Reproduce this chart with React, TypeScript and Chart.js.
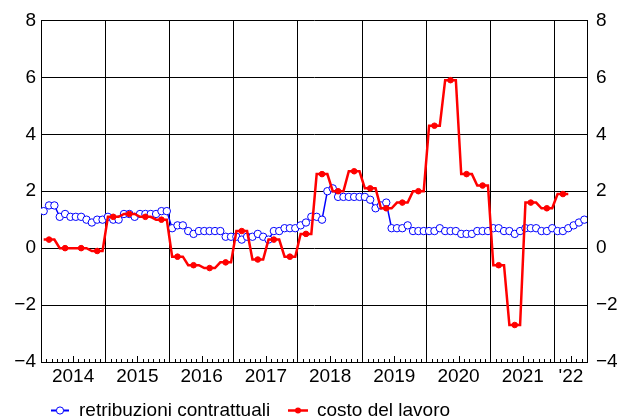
import React, { useEffect, useRef } from 'react';
import { Chart, registerables } from 'chart.js';

Chart.register(...registerables);

// ---- Data (monthly, Jan 2014 onward) ----
const yearLabels = ['2014', '2015', '2016', '2017', '2018', '2019', '2020', '2021', "'22"];
const yTickValues = [-4, -2, 0, 2, 4, 6, 8];
const seriesNames = ['retribuzioni contrattuali', 'costo del lavoro'];

// retribuzioni contrattuali, monthly Jan 2014 – Jun 2022
const retribuzioni2014 = [1.3, 1.5, 1.5, 1.1, 1.2, 1.1, 1.1, 1.1, 1.0, 0.9, 1.0, 1.0];
const retribuzioni2015 = [1.1, 1.0, 1.0, 1.2, 1.2, 1.1, 1.2, 1.2, 1.2, 1.2, 1.3, 1.3];
const retribuzioni2016 = [0.7, 0.8, 0.8, 0.6, 0.5, 0.6, 0.6, 0.6, 0.6, 0.6, 0.4, 0.4];
const retribuzioni2017 = [0.4, 0.3, 0.4, 0.4, 0.5, 0.4, 0.3, 0.6, 0.6, 0.7, 0.7, 0.7];
const retribuzioni2018 = [0.8, 0.9, 1.1, 1.1, 1.0, 2.0, 2.1, 1.8, 1.8, 1.8, 1.8, 1.8];
const retribuzioni2019 = [1.8, 1.7, 1.4, 1.5, 1.6, 0.7, 0.7, 0.7, 0.8, 0.6, 0.6, 0.6];
const retribuzioni2020 = [0.6, 0.6, 0.7, 0.6, 0.6, 0.6, 0.5, 0.5, 0.5, 0.6, 0.6, 0.6];
const retribuzioni2021 = [0.7, 0.7, 0.6, 0.6, 0.5, 0.6, 0.7, 0.7, 0.7, 0.6, 0.6, 0.7];
const retribuzioni2022 = [0.6, 0.6, 0.7, 0.8, 0.9, 1.0];

// costo del lavoro, monthly (quarterly values held per month), Jan 2014 – Mar 2022
const costo2014 = [0.3, 0.3, 0.3, 0.0, 0.0, 0.0, 0.0, 0.0, 0.0, -0.1, -0.1, -0.1];
const costo2015 = [1.1, 1.1, 1.1, 1.2, 1.2, 1.2, 1.1, 1.1, 1.1, 1.0, 1.0, 1.0];
const costo2016 = [-0.3, -0.3, -0.3, -0.6, -0.6, -0.6, -0.7, -0.7, -0.7, -0.5, -0.5, -0.5];
const costo2017 = [0.6, 0.6, 0.6, -0.4, -0.4, -0.4, 0.3, 0.3, 0.3, -0.3, -0.3, -0.3];
const costo2018 = [0.5, 0.5, 0.5, 2.6, 2.6, 2.6, 2.0, 2.0, 2.0, 2.7, 2.7, 2.7];
const costo2019 = [2.1, 2.1, 2.1, 1.4, 1.4, 1.4, 1.6, 1.6, 1.6, 2.0, 2.0, 2.0];
const costo2020 = [4.3, 4.3, 4.3, 5.9, 5.9, 5.9, 2.6, 2.6, 2.6, 2.2, 2.2, 2.2];
const costo2021 = [-0.6, -0.6, -0.6, -2.7, -2.7, -2.7, 1.6, 1.6, 1.6, 1.4, 1.4, 1.4];
const costo2022 = [1.9, 1.9, 1.9];

const retribuzioni = [
  ...retribuzioni2014, ...retribuzioni2015, ...retribuzioni2016, ...retribuzioni2017,
  ...retribuzioni2018, ...retribuzioni2019, ...retribuzioni2020, ...retribuzioni2021, ...retribuzioni2022,
];
const costoLavoro = [
  ...costo2014, ...costo2015, ...costo2016, ...costo2017,
  ...costo2018, ...costo2019, ...costo2020, ...costo2021, ...costo2022,
];

const BLUE = '#0000ff';
const RED = '#ff0000';
const FONT = "'Liberation Sans', Arial, Helvetica, sans-serif";
const FONT_SIZE = 19;
const X_MAX = 102; // months shown (Jan 2014 – Jun 2022)

const fmt = (v: number) => (v < 0 ? '\u2212' + Math.abs(v) : String(v));

const minorTicksPlugin = {
  id: 'minorTicks',
  beforeDatasetsDraw(chart: any) {
    const { ctx, chartArea, scales } = chart;
    const x = scales.x;
    ctx.save();
    ctx.strokeStyle = '#000';
    ctx.lineWidth = 1;
    for (let m = 1; m < X_MAX; m++) {
      if (m % 12 === 0) continue;
      const px = Math.round(x.getPixelForValue(m)) + 0.5;
      const len = m % 12 === 6 || m === 99 ? 6 : 3;
      ctx.beginPath();
      ctx.moveTo(px, chartArea.bottom);
      ctx.lineTo(px, chartArea.bottom - len);
      ctx.stroke();
    }
    ctx.restore();
  },
};

const legendPlugin = {
  id: 'customLegend',
  afterDraw(chart: any) {
    const { ctx } = chart;
    const y = 410.5;
    ctx.save();
    ctx.font = `${FONT_SIZE}px ${FONT}`;
    ctx.textBaseline = 'middle';
    ctx.fillStyle = '#000';
    // blue item
    ctx.strokeStyle = BLUE;
    ctx.lineWidth = 2;
    ctx.beginPath();
    ctx.moveTo(51, y);
    ctx.lineTo(69, y);
    ctx.stroke();
    ctx.beginPath();
    ctx.arc(60, y, 3.6, 0, Math.PI * 2);
    ctx.fillStyle = '#fff';
    ctx.fill();
    ctx.lineWidth = 1;
    ctx.stroke();
    ctx.fillStyle = '#000';
    ctx.fillText(seriesNames[0], 79, y);
    // red item
    ctx.strokeStyle = RED;
    ctx.lineWidth = 2.5;
    ctx.beginPath();
    ctx.moveTo(288, y);
    ctx.lineTo(308, y);
    ctx.stroke();
    ctx.beginPath();
    ctx.arc(298, y, 3, 0, Math.PI * 2);
    ctx.fillStyle = RED;
    ctx.fill();
    ctx.fillStyle = '#000';
    ctx.fillText(seriesNames[1], 317, y);
    ctx.restore();
  },
};

export default function App() {
  const ref = useRef<HTMLCanvasElement>(null);

  useEffect(() => {
    if (!ref.current) return;
    Chart.defaults.font.family = FONT;
    Chart.defaults.font.size = FONT_SIZE;
    Chart.defaults.color = '#000';

    const bluePoints = retribuzioni.map((v, i) => ({ x: i + 0.5, y: v }));
    const redPoints = costoLavoro.map((v, i) => ({ x: i + 0.5, y: v }));
    const redRadii = costoLavoro.map((_, i) => (i % 3 === 1 ? 2.8 : 0));

    const labelTicks: number[] = [0];
    for (let k = 0; k < 8; k++) {
      labelTicks.push(12 * k + 6, 12 * (k + 1));
    }
    labelTicks.push(99, X_MAX);

    const chart = new Chart(ref.current, {
      type: 'line',
      data: {
        datasets: [
          {
            label: seriesNames[0],
            data: bluePoints,
            borderColor: BLUE,
            borderWidth: 1.5,
            pointRadius: 3.7,
            pointBackgroundColor: '#fff',
            pointBorderColor: BLUE,
            pointBorderWidth: 1,
            tension: 0,
            order: 2,
          },
          {
            label: seriesNames[1],
            data: redPoints,
            borderColor: RED,
            borderWidth: 2.5,
            pointRadius: redRadii,
            pointBackgroundColor: RED,
            pointBorderColor: RED,
            pointBorderWidth: 1,
            tension: 0,
            order: 1,
          },
        ],
      },
      options: {
        animation: false,
        responsive: false,
        devicePixelRatio: 1,
        layout: { padding: { top: 19, left: 0, right: 0, bottom: 0 } },
        plugins: { legend: { display: false }, tooltip: { enabled: false } },
        scales: {
          x: {
            type: 'linear',
            min: 0,
            max: X_MAX,
            afterBuildTicks: (scale: any) => {
              scale.ticks = labelTicks.map((v) => ({ value: v }));
            },
            afterFit: (scale: any) => {
              scale.height = 57;
            },
            ticks: {
              autoSkip: false,
              maxRotation: 0,
              padding: 3,
              color: '#000',
              font: { size: FONT_SIZE, family: FONT },
              callback: (value: any) => {
                const v = Number(value);
                if (v === X_MAX) return '';
                if (v === 99) return yearLabels[8];
                if (v % 12 === 6) return yearLabels[(v - 6) / 12];
                return '';
              },
            },
            grid: {
              drawTicks: false,
              lineWidth: 1,
              color: (ctx: any) => {
                const v = ctx.tick ? ctx.tick.value : 0;
                return v % 12 === 0 || v === X_MAX ? '#000' : 'rgba(0,0,0,0)';
              },
            },
            border: { display: true, color: '#000', width: 1 },
          },
          y: {
            type: 'linear',
            position: 'left',
            min: -4,
            max: 8,
            afterBuildTicks: (scale: any) => {
              scale.ticks = yTickValues.map((v) => ({ value: v }));
            },
            afterFit: (scale: any) => {
              scale.width = 41;
            },
            ticks: {
              padding: 5,
              color: '#000',
              font: { size: FONT_SIZE, family: FONT },
              callback: (value: any) => fmt(Number(value)),
            },
            grid: { drawTicks: false, color: '#000', lineWidth: 1 },
            border: { display: true, color: '#000', width: 1 },
          },
          y2: {
            type: 'linear',
            position: 'right',
            min: -4,
            max: 8,
            afterBuildTicks: (scale: any) => {
              scale.ticks = yTickValues.map((v) => ({ value: v }));
            },
            afterFit: (scale: any) => {
              scale.width = 31;
            },
            ticks: {
              padding: 9,
              color: '#000',
              font: { size: FONT_SIZE, family: FONT },
              callback: (value: any) => fmt(Number(value)),
            },
            grid: { display: false, drawTicks: false },
            border: { display: true, color: '#000', width: 1 },
          },
        },
      },
      plugins: [minorTicksPlugin, legendPlugin],
    } as any);

    return () => chart.destroy();
  }, []);

  return (
    <div style={{ position: 'fixed', left: 0, top: 0, width: 618, height: 419, background: '#fff' }}>
      <canvas ref={ref} width={618} height={419} style={{ display: 'block', width: 618, height: 419 }} />
    </div>
  );
}
